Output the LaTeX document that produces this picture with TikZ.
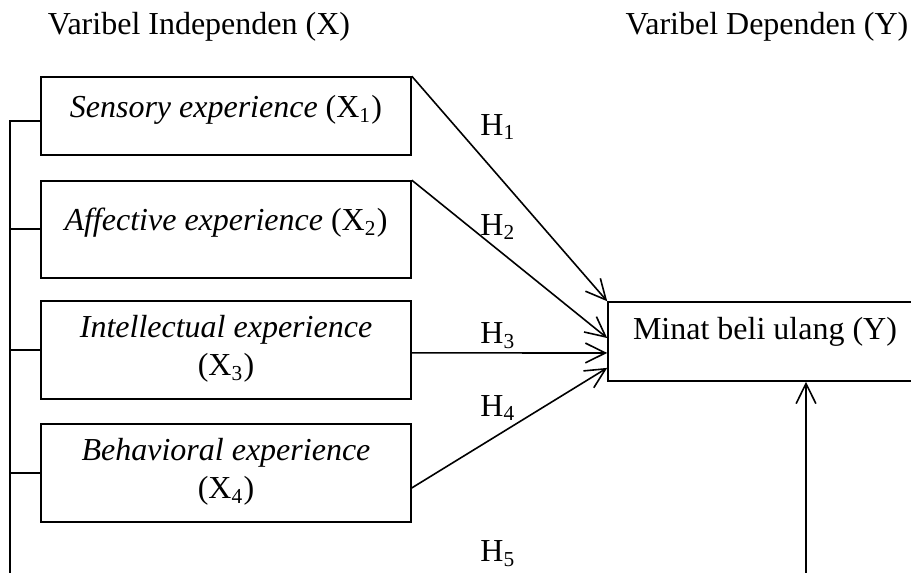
\documentclass[tikz,border=0pt]{standalone}
\usepackage{fontspec}
\setmainfont{Liberation Serif}
\usetikzlibrary{arrows.meta}

\begin{document}
\begin{tikzpicture}[x=0.375pt,y=-0.375pt,
	every node/.style={font=\fontsize{12}{14.25}\selectfont},
	box/.style={draw, line width=0.6pt, minimum width=138.75pt, inner sep=0pt},
	txt/.style={align=center, inner sep=0pt},
	hyp/.style={line width=0.6pt, -{Straight Barb[length=7.5pt,width=7.4pt]}}]
	% Fix the page to the size of the reference
	\clip (0,0) rectangle (911,573);
	
	% Draw column headings
	\node (headx) at (199,27) {Varibel Independen (X)};
	\node (heady) at (767,27) {Varibel Dependen (Y)};
	
	% Draw independent variable boxes with their texts
	\node[box, minimum height=29.25pt] (x1) at (226,116) {};
	\node[txt] (t1) at (226,110) {\textit{Sensory experience} (X\textsubscript{1})};
	\node[box, minimum height=36.4pt] (x2) at (226,229.5) {};
	\node[txt] (t2) at (226,223) {\textit{Affective experience} (X\textsubscript{2})};
	\node[box, minimum height=36.75pt] (x3) at (226,350) {};
	\node[txt] (t3) at (226,349) {\textit{Intellectual experience}\\(X\textsubscript{3})};
	\node[box, minimum height=36.75pt] (x4) at (226,473) {};
	\node[txt] (t4) at (226,472) {\textit{Behavioral experience}\\(X\textsubscript{4})};
	
	% Draw dependent variable box
	\node[box, minimum width=117.75pt, minimum height=29.6pt] (y) at (765,341.5) {};
	\node[txt] (ty) at (765,332) {Minat beli ulang (Y)};
	
	% Draw arrows from X boxes to Y box
	\draw[hyp] (x1.north east) -- (y.north west);
	\draw[hyp] (x2.north east) -- ([yshift=1.3pt]y.west);
	\draw[hyp] ([yshift=-1.1pt]x3.east) -- ([yshift=-4.3pt]y.west);
	\draw[hyp] ([yshift=-5.6pt]x4.east) -- ([yshift=-9.9pt]y.west);
	
	% Draw joint line on the left and the arrow from below
	\coordinate (bus) at (10,573);
	\coordinate (b5) at (806,573);
	\draw[line width=0.6pt] ([yshift=-1.9pt]x1.west) -| (bus);
	\draw[line width=0.6pt] ([yshift=0.2pt]x2.west) -- ([yshift=0.2pt]x2.west -| bus);
	\foreach \i in {3,4}
	\draw[line width=0.6pt] (x\i.west) -- (x\i.west -| bus);
	\draw[hyp] (b5) -- (b5 |- y.south);
	
	% Draw hypothesis labels
	\node (h1) at (498,127) {H\textsubscript{1}};
	\node (h2) at (498,227) {H\textsubscript{2}};
	\node (h3) at (498,336) {H\textsubscript{3}};
	\node (h4) at (498,408) {H\textsubscript{4}};
	\node (h5) at (498,554) {H\textsubscript{5}};
\end{tikzpicture}
\end{document}
